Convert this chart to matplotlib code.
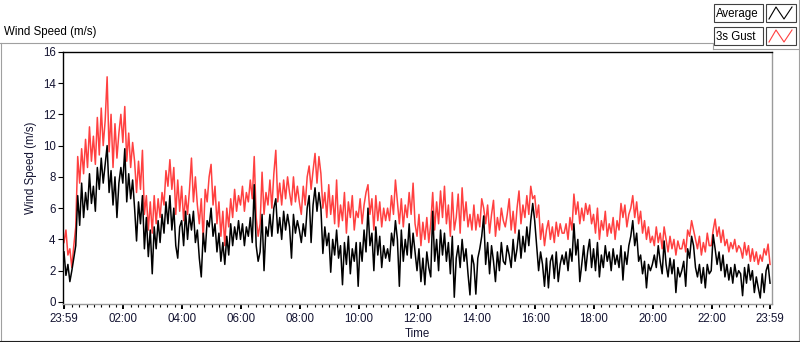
import numpy as np
import matplotlib
matplotlib.use("Agg")
import matplotlib.pyplot as plt
from matplotlib.lines import Line2D
from matplotlib.patches import Rectangle

plt.rcParams['font.family'] = ['Liberation Sans', 'DejaVu Sans']
plt.rcParams['font.size'] = 8.3

W, H = 800, 342

# one sample every 4 minutes, starting at 23:59 (one row per hour)
step_min = 4
avg_speed = [
    3.2, 1.7, 2.4, 1.3, 2.0, 2.8, 3.6, 6.8, 4.9, 7.6, 5.4, 7.0, 5.9, 8.2, 6.3,
    7.4, 5.8, 8.6, 7.2, 9.2, 7.6, 8.8, 10.0, 7.0, 8.4, 6.2, 8.0, 5.4, 7.6, 8.6,
    7.6, 9.8, 6.4, 8.2, 6.6, 7.8, 6.0, 3.9, 6.4, 5.0, 6.8, 3.4, 5.4, 2.9, 4.6,
    1.8, 4.8, 3.4, 5.2, 3.8, 5.6, 4.4, 6.4, 5.0, 6.8, 4.6, 6.0, 3.6, 2.8, 4.8,
    5.2, 3.6, 5.8, 4.0, 5.6, 4.6, 5.8, 3.8, 4.6, 2.8, 1.6, 4.4, 3.2, 5.2, 4.8,
    6.0, 4.2, 5.0, 3.2, 4.4, 2.6, 3.8, 2.4, 4.2, 3.0, 5.0, 3.6, 4.8, 4.0, 5.2,
    4.0, 5.0, 3.6, 4.8, 4.2, 5.4, 3.8, 7.5, 3.6, 2.6, 3.2, 5.6, 2.0, 4.8, 4.2,
    5.6, 4.2, 6.0, 6.6, 4.4, 5.4, 4.0, 5.8, 4.6, 5.6, 4.8, 2.8, 5.6, 4.4, 5.2,
    4.6, 3.8, 5.0, 4.2, 6.0, 6.8, 3.8, 6.2, 7.3, 5.8, 7.0, 6.0, 3.1, 4.8, 3.6,
    4.4, 1.9, 4.0, 3.0, 4.6, 2.8, 3.6, 1.1, 3.8, 2.4, 4.2, 1.8, 3.4, 2.6, 3.8,
    1.0, 3.8, 2.6, 4.6, 3.2, 6.0, 3.6, 4.4, 2.0, 4.8, 3.0, 4.2, 2.2, 3.6, 2.8,
    3.4, 2.6, 4.4, 3.6, 5.2, 4.0, 1.0, 4.6, 2.6, 4.0, 3.0, 5.0, 2.8, 4.4, 3.2,
    2.0, 3.4, 1.3, 2.8, 1.1, 3.2, 2.2, 1.6, 5.8, 2.6, 4.0, 2.0, 4.6, 3.0, 4.4,
    2.6, 3.8, 1.8, 4.2, 0.3, 2.8, 3.6, 2.2, 4.0, 2.6, 3.4, 1.8, 0.45, 3.0, 2.4,
    0.5, 2.8, 3.4, 4.2, 5.5, 2.4, 3.8, 1.8, 3.6, 2.6, 1.3, 3.2, 2.0, 3.8, 2.6,
    2.4, 3.6, 3.0, 2.2, 4.0, 2.6, 3.4, 4.6, 2.8, 4.2, 3.2, 4.8, 3.6, 5.2, 6.3,
    5.2, 3.6, 2.0, 3.2, 2.4, 1.0, 2.8, 0.9, 2.6, 3.0, 1.5, 3.2, 1.3, 2.4, 3.0,
    2.4, 3.2, 2.0, 3.4, 2.6, 5.0, 3.0, 4.0, 1.3, 2.4, 3.6, 2.0, 3.2, 4.0, 2.2,
    3.4, 2.0, 3.8, 1.6, 3.0, 2.2, 3.6, 2.6, 3.2, 2.0, 3.4, 2.4, 3.0, 2.2, 3.6,
    1.4, 3.2, 2.4, 3.6, 4.2, 5.2, 3.6, 4.4, 2.6, 3.0, 1.8, 2.6, 0.9, 2.4, 2.0,
    2.4, 3.0, 2.2, 3.6, 2.6, 1.8, 3.9, 2.4, 1.6, 2.8, 1.8, 2.7, 0.6, 2.2, 1.6,
    2.0, 2.6, 1.0, 3.4, 2.8, 4.2, 3.6, 2.2, 1.6, 2.4, 1.2, 2.2, 0.9, 2.4, 1.8,
    2.0, 4.3, 3.4, 2.4, 3.2, 2.0, 3.0, 1.6, 2.4, 1.4, 2.2, 1.2, 2.4, 1.6, 2.0,
    1.8, 0.4, 2.2, 1.2, 2.4, 1.4, 2.0, 0.6, 1.6, 0.9, 0.25, 1.8, 0.6, 2.0, 2.4, 1.2,
]
gust_speed = [
    3.8, 4.6, 3.0, 3.4, 2.2, 3.6, 4.8, 9.3, 7.6, 9.8, 8.2, 10.4, 8.6, 11.2, 9.0,
    10.6, 8.8, 11.8, 9.4, 12.4, 10.0, 11.6, 14.4, 9.6, 12.0, 8.6, 11.4, 9.2, 10.8, 12.0,
    10.2, 12.5, 9.0, 10.8, 8.6, 10.2, 9.0, 7.0, 9.0, 7.2, 9.7, 5.6, 6.8, 4.6, 6.4,
    4.4, 6.8, 5.0, 6.6, 5.4, 7.0, 6.2, 8.4, 7.4, 9.1, 7.2, 8.6, 5.6, 7.8, 5.8,
    7.4, 5.2, 6.8, 5.6, 7.2, 9.2, 6.4, 8.0, 6.2, 5.0, 6.6, 4.0, 7.2, 6.4, 8.0,
    8.8, 6.2, 7.4, 5.0, 6.4, 4.2, 5.8, 3.6, 6.0, 4.8, 6.6, 5.4, 7.2, 5.8, 6.8,
    6.2, 7.4, 5.8, 7.0, 6.4, 7.8, 6.6, 9.3, 5.4, 4.2, 5.0, 8.3, 5.6, 7.0, 6.2,
    7.8, 6.0, 8.2, 9.7, 6.4, 7.6, 6.2, 7.8, 6.6, 8.0, 7.0, 6.2, 8.0, 6.4, 7.4,
    6.4, 5.6, 7.4, 6.2, 8.0, 8.7, 7.2, 8.4, 9.5, 7.6, 9.3, 8.2, 6.0, 7.0, 5.4,
    7.5, 5.6, 6.8, 5.0, 7.8, 4.8, 6.2, 5.2, 7.0, 4.4, 6.4, 5.4, 6.8, 4.6, 5.8,
    5.4, 6.6, 5.0, 6.2, 7.0, 7.5, 5.6, 6.6, 4.6, 6.8, 5.2, 6.4, 4.8, 6.0, 5.2,
    6.0, 5.2, 6.8, 5.6, 7.8, 6.4, 5.0, 6.6, 4.8, 6.2, 5.4, 7.0, 5.6, 7.6, 5.0,
    4.2, 5.6, 3.6, 5.1, 4.0, 5.4, 3.8, 5.0, 7.0, 4.6, 6.4, 5.0, 7.1, 5.4, 7.4,
    5.0, 6.2, 4.2, 7.0, 4.6, 5.4, 6.9, 4.4, 7.3, 5.2, 6.4, 4.8, 5.6, 4.6, 6.2,
    4.6, 5.6, 4.8, 6.6, 6.0, 5.0, 6.2, 4.4, 5.6, 6.5, 4.2, 5.4, 4.6, 6.0, 5.2,
    4.8, 5.6, 6.6, 4.6, 5.8, 4.4, 6.0, 7.1, 5.0, 6.2, 5.4, 6.8, 5.6, 7.4, 6.6,
    6.8, 5.4, 6.2, 4.0, 5.0, 3.6, 4.6, 5.2, 4.0, 4.8, 3.8, 5.1, 4.2, 5.0, 4.4,
    4.4, 5.0, 4.0, 5.4, 4.6, 6.9, 5.6, 6.4, 5.0, 6.0, 5.2, 6.3, 5.6, 6.2, 5.0,
    5.6, 4.4, 6.0, 4.0, 5.2, 4.6, 5.8, 4.2, 5.0, 4.4, 5.4, 4.0, 5.2, 4.6, 6.3,
    5.4, 6.2, 4.8, 5.6, 6.0, 6.8, 5.4, 6.4, 5.0, 5.8, 4.4, 5.2, 4.0, 4.8, 3.8,
    4.2, 3.6, 4.8, 3.8, 4.4, 3.4, 4.8, 4.0, 3.2, 4.2, 3.4, 4.0, 3.0, 3.9, 3.4,
    3.4, 4.0, 3.2, 4.6, 4.2, 5.2, 4.6, 4.0, 3.4, 4.2, 3.0, 3.8, 3.2, 4.4, 3.6,
    3.6, 4.6, 5.3, 4.2, 4.8, 3.8, 4.6, 3.6, 4.0, 3.2, 3.8, 3.4, 4.0, 3.2, 3.6,
    3.4, 2.8, 3.8, 3.0, 3.6, 2.6, 3.4, 2.6, 3.2, 2.4, 3.0, 2.6, 3.4, 3.0, 3.7, 2.4,
]
time_min = np.arange(len(avg_speed)) * step_min

y_ticks = [0, 2, 4, 6, 8, 10, 12, 14, 16]
x_labels = ['23:59', '02:00', '04:00', '06:00', '08:00', '10:00', '12:00',
            '14:00', '16:00', '18:00', '20:00', '22:00', '23:59']
# minutes after 23:59 for each label
x_ticks = [0] + [60 * h + 1 for h in range(2, 24, 2)] + [1440]
minor_ticks = np.arange(1, 1440, 15)

label_col = '#141432'
gust_col = '#ff4040'


def fx(x):
    return x / W


def fy(y):
    return 1 - y / H


fig = plt.figure(figsize=(W / 100, H / 100), dpi=100)
fig.patch.set_facecolor('white')

ax = fig.add_axes([fx(63), fy(303.5), (772 - 63) / W, (303.5 - 51.8) / H])
ax.plot(time_min, gust_speed, color=gust_col, lw=1.1)
ax.plot(time_min, avg_speed, color='black', lw=1.1)
ax.set_xlim(-2, 1444)
ax.set_ylim(-0.1, 16)

for s in ['top', 'left']:
    ax.spines[s].set_color('black')
    ax.spines[s].set_linewidth(1.0)
for s in ['right', 'bottom']:
    ax.spines[s].set_color('#9a9a9a')
    ax.spines[s].set_linewidth(1.0)

ax.set_yticks(y_ticks)
ax.set_xticks(x_ticks, x_labels)
ax.set_xticks(minor_ticks, minor=True)
ax.tick_params(axis='y', direction='out', length=3.8, width=0.8, pad=1.5,
               labelsize=8.3, labelcolor=label_col, color='black')
ax.tick_params(axis='x', which='major', direction='out', length=3.5, width=1.4,
               pad=3, labelsize=8.3, labelcolor=label_col, color='black')
ax.tick_params(axis='x', which='minor', direction='out', length=2.2, width=0.8,
               color='black')

fig.text(fx(31), fy(168), 'Wind Speed (m/s)', rotation=90, ha='center',
         va='center', color=label_col, fontsize=8.3)
fig.text(fx(417), fy(334), 'Time', ha='center', va='center', color=label_col,
         fontsize=8.3)
fig.text(fx(4), fy(31.5), 'Wind Speed (m/s)', ha='left', va='center',
         color='black', fontsize=8.3)

# panel frame
frame = '#a0a0a0'
for (x0, y0, x1, y1, c) in [
    (0, 42.5, 712, 42.5, frame),
    (0.5, 42.5, 0.5, 340, frame),
    (0, 340.5, 800, 340.5, '#202020'),
    (798.5, 0, 798.5, 340, frame),
    (712.5, 42.5, 712.5, 48.5, frame),
    (712.5, 48.5, 798.5, 48.5, frame),
]:
    fig.add_artist(Line2D([fx(x0), fx(x1)], [fy(y0), fy(y1)], color=c, lw=0.8))

# legend
for (label, col, top) in [('Average', 'black', 4), ('3s Gust', gust_col, 27)]:
    fig.add_artist(Rectangle((fx(714), fy(top + 18)), 49 / W, 18 / H,
                             facecolor='white', edgecolor='#404040', lw=0.8))
    fig.add_artist(Rectangle((fx(766), fy(top + 18)), 30 / W, 18 / H,
                             facecolor='white', edgecolor='#404040', lw=0.8))
    fig.text(fx(716), fy(top + 9.5), label, ha='left', va='center',
             color='black', fontsize=8.3)
    fig.add_artist(Line2D([fx(769), fx(776), fx(784), fx(792)],
                          [fy(top + 15), fy(top + 3), fy(top + 15), fy(top + 3)],
                          color=col, lw=0.8))

fig.savefig('out.png', dpi=100)
